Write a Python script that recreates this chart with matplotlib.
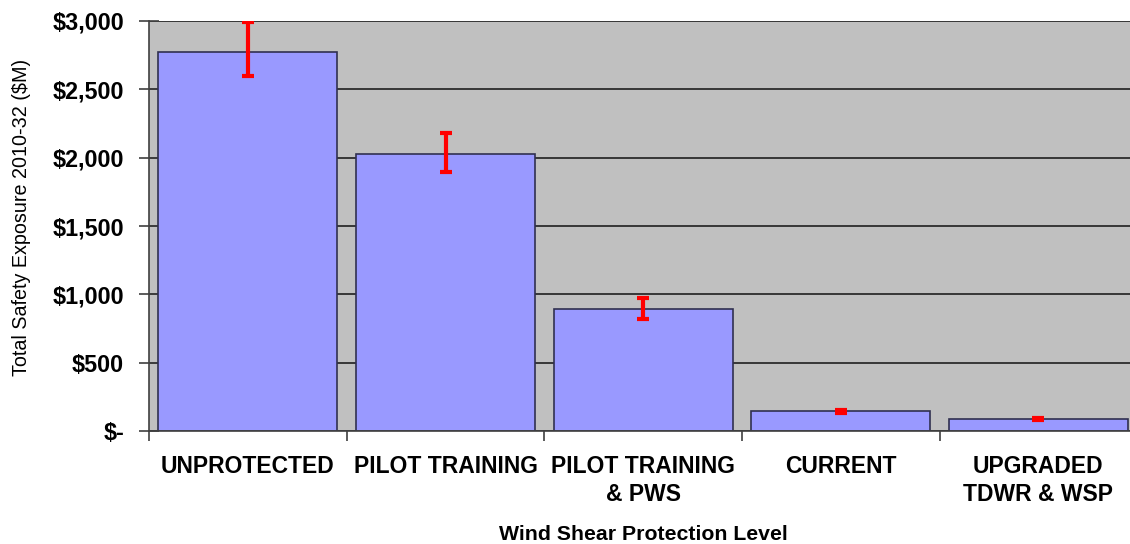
import matplotlib.pyplot as plt
import numpy as np
from matplotlib.ticker import FuncFormatter

plt.rcParams['font.family'] = ['Liberation Sans', 'DejaVu Sans']

categories = ['UNPROTECTED', 'PILOT TRAINING', 'PILOT TRAINING\n& PWS',
              'CURRENT', 'UPGRADED\nTDWR & WSP']
exposure = [2775, 2025, 893, 145, 88]
err_low = [2600, 1895, 820, 135, 80]
err_high = [2990, 2180, 973, 155, 96]
yticks = [0, 500, 1000, 1500, 2000, 2500, 3000]

fig = plt.figure(figsize=(11.3, 5.44), dpi=100)
ax = fig.add_axes([0.1319, 0.2077, 0.8745, 0.7537])
ax.set_facecolor('#C0C0C0')

x = np.arange(len(categories))
ex = np.array(exposure)
yerr = [ex - np.array(err_low), np.array(err_high) - ex]

ax.set_axisbelow(True)
ax.yaxis.grid(True, color='#202020', linewidth=1.2)
ax.bar(x, ex, width=0.905, color='#9999FF', edgecolor='#303050', linewidth=1.2, zorder=2)
ax.errorbar(x, ex, yerr=yerr, fmt='none', ecolor='#FF0000', elinewidth=3,
            capsize=4, capthick=3, zorder=3)

ax.set_xlim(-0.5, len(categories) - 0.5)
ax.set_ylim(0, 3000)
ax.set_yticks(yticks)
ax.yaxis.set_major_formatter(FuncFormatter(lambda v, p: '$-' if v == 0 else '${:,.0f}'.format(v)))
for lab in ax.get_yticklabels():
    lab.set_fontweight('bold')
    lab.set_fontsize(16.8)

ax.set_xticks(x)
ax.set_xticklabels(categories, fontsize=16.5, fontweight='bold', va='top', linespacing=1.3)
ax.set_xticks(np.arange(len(categories) + 1) - 0.5, minor=True)
ax.tick_params(axis='x', which='major', length=0, pad=17)
ax.tick_params(axis='x', which='minor', length=7, width=1.2, color='#404040')
ax.tick_params(axis='y', direction='inout', length=14, width=1.2, color='#404040', pad=11)

for s in ['top', 'right']:
    ax.spines[s].set_visible(False)
ax.spines['left'].set_color('#404040')
ax.spines['bottom'].set_color('#404040')
ax.spines['left'].set_linewidth(1.2)
ax.spines['bottom'].set_linewidth(1.2)

ax.set_ylabel('Total Safety Exposure 2010-32 ($M)', fontsize=14.2)
ax.yaxis.set_label_coords(-0.119, 0.52)
ax.set_xlabel('Wind Shear Protection Level', fontsize=15.3, fontweight='bold', labelpad=14)

plt.savefig('out.png', dpi=100)
